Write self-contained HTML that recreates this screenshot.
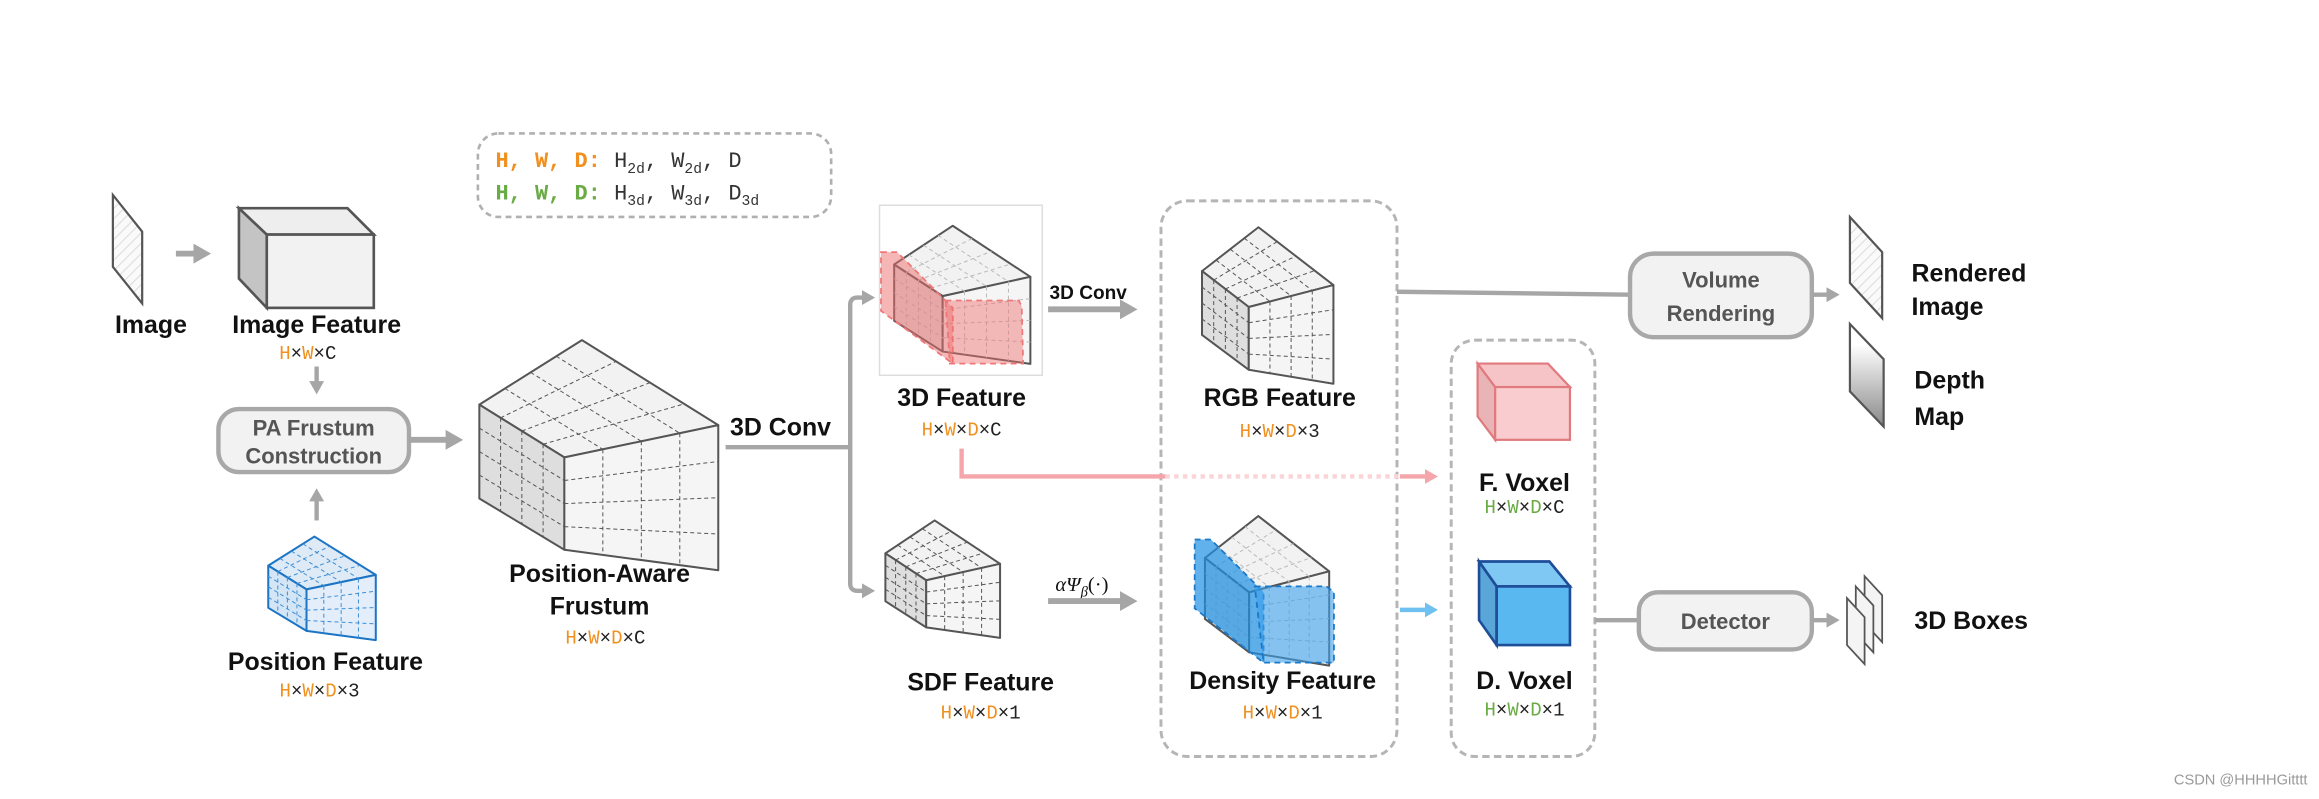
<!DOCTYPE html>
<html><head><meta charset="utf-8"><style>
html,body{margin:0;padding:0;background:#fff;}
svg{display:block;}
.lb{font-family:"Liberation Sans",sans-serif;font-weight:bold;font-size:17px;fill:#111;}
.dm{font-family:"Liberation Mono",monospace;font-size:13px;fill:#222;}
.o{fill:#f0901e;}
.g{fill:#6aab45;}
.bx{font-family:"Liberation Sans",sans-serif;font-weight:bold;font-size:15px;fill:#555;}
.fr polygon{stroke-width:2;stroke-linejoin:round;vector-effect:non-scaling-stroke;}
.fr path{stroke-width:1;stroke-dasharray:4 3;fill:none;vector-effect:non-scaling-stroke;}
.gy polygon{stroke:#555;} .gy .t{fill:#f2f2f2;} .gy .l{fill:#dedede;} .gy .f{fill:#f5f5f5;} .gy path{stroke:#555;}
.lt polygon{stroke:#555;} .lt .t{fill:#f2f2f2;} .lt .l{fill:#e0e0e0;} .lt .f{fill:#f5f5f5;} .lt path{stroke:#bbb;}
.bl polygon{stroke:#1b74c4;} .bl .t{fill:#deebf7;} .bl .l{fill:#d4e5f6;} .bl .f{fill:#e3eefa;} .bl path{stroke:#3d8fd6;}
</style></head><body>
<svg width="2319" height="799" viewBox="0 0 1582 545" preserveAspectRatio="none" xmlns="http://www.w3.org/2000/svg">
<defs>
<pattern id="hatch" width="5" height="5" patternUnits="userSpaceOnUse" patternTransform="rotate(45)">
<rect width="5" height="5" fill="#fafafa"/><line x1="0" y1="0" x2="0" y2="5" stroke="#ddd" stroke-width="1.5"/></pattern>
<linearGradient id="dg" x1="0" y1="0" x2="0" y2="1"><stop offset="0.2" stop-color="#fff"/><stop offset="1" stop-color="#888"/></linearGradient>
<marker id="ah" markerWidth="4" markerHeight="4" refX="2" refY="2" orient="auto" markerUnits="strokeWidth"><path d="M0,0.3 L3,2 L0,3.7z" fill="#a6a6a6"/></marker>
<marker id="ap" markerWidth="4" markerHeight="4" refX="2" refY="2" orient="auto" markerUnits="strokeWidth"><path d="M0,0.3 L3,2 L0,3.7z" fill="#f4a6aa"/></marker>
<marker id="ab" markerWidth="4" markerHeight="4" refX="2" refY="2" orient="auto" markerUnits="strokeWidth"><path d="M0,0.3 L3,2 L0,3.7z" fill="#6ec1f0"/></marker>
</defs>

<!-- legend -->
<rect x="326" y="91" width="241" height="57" rx="14" fill="#fff" stroke="#b0b0b0" stroke-width="1.8" stroke-dasharray="4 3"/>
<text x="338" y="114" font-family="Liberation Mono,monospace" font-size="15" fill="#333"><tspan class="o" font-weight="bold">H, W, D:</tspan> H<tspan font-size="10" dy="4">2d</tspan><tspan dy="-4">, W</tspan><tspan font-size="10" dy="4">2d</tspan><tspan dy="-4">, D</tspan></text>
<text x="338" y="136" font-family="Liberation Mono,monospace" font-size="15" fill="#333"><tspan class="g" font-weight="bold">H, W, D:</tspan> H<tspan font-size="10" dy="4">3d</tspan><tspan dy="-4">, W</tspan><tspan font-size="10" dy="4">3d</tspan><tspan dy="-4">, D</tspan><tspan font-size="10" dy="4">3d</tspan></text>

<!-- image -->
<polygon points="77,133 97,158 97,207 77,182" fill="url(#hatch)" stroke="#555" stroke-width="1.5"/>
<text class="lb" x="103" y="227" text-anchor="middle">Image</text>
<line x1="120" y1="173" x2="140" y2="173" stroke="#a6a6a6" stroke-width="4" marker-end="url(#ah)"/>

<!-- image feature cube -->
<polygon points="163,142 182,160 182,210 163,190" fill="#c4c4c4" stroke="#555" stroke-width="1.8"/>
<polygon points="163,142 237,142 255,160 182,160" fill="#eee" stroke="#555" stroke-width="1.8"/>
<rect x="182" y="160" width="73" height="50" fill="#f2f2f2" stroke="#555" stroke-width="1.8"/>
<text class="lb" x="216" y="227" text-anchor="middle">Image Feature</text>
<text class="dm" x="210" y="245" text-anchor="middle"><tspan class="o">H</tspan>×<tspan class="o">W</tspan>×C</text>
<line x1="216" y1="250" x2="216" y2="266" stroke="#a6a6a6" stroke-width="3" marker-end="url(#ah)"/>

<!-- PA box -->
<rect x="149" y="279" width="130" height="43" rx="14" fill="#f2f2f2" stroke="#a8a8a8" stroke-width="3"/>
<text class="bx" x="214" y="297" text-anchor="middle" font-size="14">PA Frustum</text>
<text class="bx" x="214" y="316" text-anchor="middle" font-size="14">Construction</text>
<line x1="216" y1="355" x2="216" y2="336" stroke="#a6a6a6" stroke-width="3" marker-end="url(#ah)"/>
<line x1="279" y1="300" x2="312" y2="300" stroke="#a6a6a6" stroke-width="4" marker-end="url(#ah)"/>

<!-- position feature -->
<g class="fr bl" transform="translate(183,366) scale(0.45,0.45)">
<polygon class="t" points="0,44 70,0 163,58 58,80"/><polygon class="l" points="0,44 58,80 58,143 0,108"/><polygon class="f" points="58,80 163,58 163,157 58,143"/>
<path d="M14.5,53L93.25,14.5M29,62L116.5,29M43.5,71L139.75,43.5M17.5,33L84.25,74.5M35,22L110.5,69M52.5,11L136.75,63.5M14.5,53L14.5,116.75M29,62L29,125.5M43.5,71L43.5,134.25M0,60L58,95.75M0,76L58,111.5M0,92L58,127.25M84.25,74.5L84.25,146.5M110.5,69L110.5,150M136.75,63.5L136.75,153.5M58,95.75L163,82.75M58,111.5L163,107.5M58,127.25L163,132.25"/></g>
<text class="lb" x="222" y="457" text-anchor="middle">Position Feature</text>
<text class="dm" x="218" y="475" text-anchor="middle"><tspan class="o">H</tspan>×<tspan class="o">W</tspan>×<tspan class="o">D</tspan>×3</text>

<!-- position-aware frustum -->
<g class="fr gy" transform="translate(327,232)">
<polygon class="t" points="0,44 70,0 163,58 58,80"/><polygon class="l" points="0,44 58,80 58,143 0,108"/><polygon class="f" points="58,80 163,58 163,157 58,143"/>
<path d="M14.5,53L93.25,14.5M29,62L116.5,29M43.5,71L139.75,43.5M17.5,33L84.25,74.5M35,22L110.5,69M52.5,11L136.75,63.5M14.5,53L14.5,116.75M29,62L29,125.5M43.5,71L43.5,134.25M0,60L58,95.75M0,76L58,111.5M0,92L58,127.25M84.25,74.5L84.25,146.5M110.5,69L110.5,150M136.75,63.5L136.75,153.5M58,95.75L163,82.75M58,111.5L163,107.5M58,127.25L163,132.25"/></g>
<text class="lb" x="409" y="397" text-anchor="middle">Position-Aware</text>
<text class="lb" x="409" y="419" text-anchor="middle">Frustum</text>
<text class="dm" x="413" y="439" text-anchor="middle"><tspan class="o">H</tspan>×<tspan class="o">W</tspan>×<tspan class="o">D</tspan>×C</text>

<!-- 3D conv branch -->
<text class="lb" x="498" y="297">3D Conv</text>
<path d="M495,305 L580,305 M580,208 Q580,203 585,203 L593,203 M580,208 L580,398 Q580,403 585,403 L593,403" stroke="#a6a6a6" stroke-width="3" fill="none"/>
<line x1="590" y1="203" x2="594" y2="203" stroke="#a6a6a6" stroke-width="3" marker-end="url(#ah)"/>
<line x1="590" y1="403" x2="594" y2="403" stroke="#a6a6a6" stroke-width="3" marker-end="url(#ah)"/>

<!-- 3D feature -->
<rect x="600" y="140" width="111" height="116" fill="#fff" stroke="#ddd" stroke-width="1"/>
<g class="fr lt" transform="translate(610,154) scale(0.57,0.6)">
<polygon class="t" points="0,44 70,0 163,58 58,80"/><polygon class="l" points="0,44 58,80 58,143 0,108"/><polygon class="f" points="58,80 163,58 163,157 58,143"/>
<path d="M14.5,53L93.25,14.5M29,62L116.5,29M43.5,71L139.75,43.5M17.5,33L84.25,74.5M35,22L110.5,69M52.5,11L136.75,63.5M14.5,53L14.5,116.75M29,62L29,125.5M43.5,71L43.5,134.25M0,60L58,95.75M0,76L58,111.5M0,92L58,127.25M84.25,74.5L84.25,146.5M110.5,69L110.5,150M136.75,63.5L136.75,153.5M58,95.75L163,82.75M58,111.5L163,107.5M58,127.25L163,132.25"/></g>
<polygon points="601,172 612,172 650,210 650,248 601,212" fill="rgba(240,110,110,0.5)" stroke="#e77" stroke-width="1.2" stroke-dasharray="4 3"/>
<polygon points="645,205 695,205 697,209 698,248 648,248" fill="rgba(240,110,110,0.45)" stroke="#e77" stroke-width="1.2" stroke-dasharray="4 3"/>
<text class="lb" x="656" y="277" text-anchor="middle">3D Feature</text>
<text class="dm" x="656" y="297" text-anchor="middle"><tspan class="o">H</tspan>×<tspan class="o">W</tspan>×<tspan class="o">D</tspan>×C</text>
<text x="716" y="204" font-family="Liberation Sans,sans-serif" font-weight="bold" font-size="13" fill="#111">3D Conv</text>
<line x1="715" y1="211" x2="772" y2="211" stroke="#a6a6a6" stroke-width="4" marker-end="url(#ah)"/>

<!-- dashed box 1 -->
<rect x="792" y="137" width="161" height="379" rx="18" fill="none" stroke="#b5b5b5" stroke-width="2" stroke-dasharray="5 3"/>
<g class="fr gy" transform="translate(820,155) scale(0.55,0.68)">
<polygon class="t" points="0,44 70,0 163,58 58,80"/><polygon class="l" points="0,44 58,80 58,143 0,108"/><polygon class="f" points="58,80 163,58 163,157 58,143"/>
<path d="M14.5,53L93.25,14.5M29,62L116.5,29M43.5,71L139.75,43.5M17.5,33L84.25,74.5M35,22L110.5,69M52.5,11L136.75,63.5M14.5,53L14.5,116.75M29,62L29,125.5M43.5,71L43.5,134.25M0,60L58,95.75M0,76L58,111.5M0,92L58,127.25M84.25,74.5L84.25,146.5M110.5,69L110.5,150M136.75,63.5L136.75,153.5M58,95.75L163,82.75M58,111.5L163,107.5M58,127.25L163,132.25"/></g>
<text class="lb" x="873" y="277" text-anchor="middle">RGB Feature</text>
<text class="dm" x="873" y="298" text-anchor="middle"><tspan class="o">H</tspan>×<tspan class="o">W</tspan>×<tspan class="o">D</tspan>×3</text>

<!-- pink connector -->
<path d="M656,306 L656,325 L795,325" stroke="#f4a6aa" stroke-width="3" fill="none"/>
<line x1="795" y1="325" x2="955" y2="325" stroke="#fad4d6" stroke-width="3" stroke-dasharray="3 3"/>
<line x1="955" y1="325" x2="978" y2="325" stroke="#f4a6aa" stroke-width="3" marker-end="url(#ap)"/>

<!-- SDF -->
<g class="fr gy" transform="translate(604,355) scale(0.48,0.51)">
<polygon class="t" points="0,44 70,0 163,58 58,80"/><polygon class="l" points="0,44 58,80 58,143 0,108"/><polygon class="f" points="58,80 163,58 163,157 58,143"/>
<path d="M14.5,53L93.25,14.5M29,62L116.5,29M43.5,71L139.75,43.5M17.5,33L84.25,74.5M35,22L110.5,69M52.5,11L136.75,63.5M14.5,53L14.5,116.75M29,62L29,125.5M43.5,71L43.5,134.25M0,60L58,95.75M0,76L58,111.5M0,92L58,127.25M84.25,74.5L84.25,146.5M110.5,69L110.5,150M136.75,63.5L136.75,153.5M58,95.75L163,82.75M58,111.5L163,107.5M58,127.25L163,132.25"/></g>
<text class="lb" x="669" y="471" text-anchor="middle">SDF Feature</text>
<text class="dm" x="669" y="490" text-anchor="middle"><tspan class="o">H</tspan>×<tspan class="o">W</tspan>×<tspan class="o">D</tspan>×1</text>
<text x="720" y="403" font-family="Liberation Serif,serif" font-style="italic" font-size="14" fill="#111">αΨ<tspan font-size="10" dy="4">β</tspan><tspan dy="-4" font-style="normal">(·)</tspan></text>
<line x1="715" y1="410" x2="772" y2="410" stroke="#a6a6a6" stroke-width="4" marker-end="url(#ah)"/>

<!-- Density -->
<g class="fr lt" transform="translate(822,352) scale(0.52,0.65)">
<polygon class="t" points="0,44 70,0 163,58 58,80"/><polygon class="l" points="0,44 58,80 58,143 0,108"/><polygon class="f" points="58,80 163,58 163,157 58,143"/>
<path d="M14.5,53L93.25,14.5M29,62L116.5,29M43.5,71L139.75,43.5M17.5,33L84.25,74.5M35,22L110.5,69M52.5,11L136.75,63.5M14.5,53L14.5,116.75M29,62L29,125.5M43.5,71L43.5,134.25M0,60L58,95.75M0,76L58,111.5M0,92L58,127.25M84.25,74.5L84.25,146.5M110.5,69L110.5,150M136.75,63.5L136.75,153.5M58,95.75L163,82.75M58,111.5L163,107.5M58,127.25L163,132.25"/></g>
<polygon points="815,368 826,368 862,404 862,452 815,415" fill="rgba(30,144,230,0.7)" stroke="#1a78c8" stroke-width="1.2" stroke-dasharray="4 3"/>
<polygon points="856,400 905,400 910,404 910,452 862,452" fill="rgba(60,160,235,0.6)" stroke="#1a78c8" stroke-width="1.2" stroke-dasharray="4 3"/>
<text class="lb" x="875" y="470" text-anchor="middle">Density Feature</text>
<text class="dm" x="875" y="490" text-anchor="middle"><tspan class="o">H</tspan>×<tspan class="o">W</tspan>×<tspan class="o">D</tspan>×1</text>
<line x1="955" y1="416" x2="978" y2="416" stroke="#6ec1f0" stroke-width="3" marker-end="url(#ab)"/>

<!-- dashed box 2 -->
<rect x="990" y="232" width="98" height="284" rx="16" fill="none" stroke="#b5b5b5" stroke-width="2" stroke-dasharray="5 3"/>
<polygon points="1008,248 1020,264 1020,300 1008,284" fill="#e8b4b6" stroke="#e07a7e" stroke-width="1.5"/>
<polygon points="1008,248 1056,248 1071,264 1020,264" fill="#f6c4c6" stroke="#e07a7e" stroke-width="1.5"/>
<rect x="1020" y="264" width="51" height="36" fill="#f9cdd0" stroke="#e07a7e" stroke-width="1.5"/>
<text class="lb" x="1040" y="335" text-anchor="middle">F. Voxel</text>
<text class="dm" x="1040" y="350" text-anchor="middle"><tspan class="g">H</tspan>×<tspan class="g">W</tspan>×<tspan class="g">D</tspan>×C</text>
<polygon points="1009,383 1021,400 1021,440 1009,423" fill="#5aa6d8" stroke="#1f4e99" stroke-width="1.8"/>
<polygon points="1009,383 1057,383 1071,400 1021,400" fill="#80c8f4" stroke="#1f4e99" stroke-width="1.8"/>
<rect x="1021" y="400" width="50" height="40" fill="#5ab8f0" stroke="#1f4e99" stroke-width="1.8"/>
<text class="lb" x="1040" y="470" text-anchor="middle">D. Voxel</text>
<text class="dm" x="1040" y="488" text-anchor="middle"><tspan class="g">H</tspan>×<tspan class="g">W</tspan>×<tspan class="g">D</tspan>×1</text>

<!-- volume rendering -->
<path d="M953,199 L1112,201" stroke="#a6a6a6" stroke-width="3" fill="none"/>
<rect x="1112" y="173" width="124" height="57" rx="16" fill="#f2f2f2" stroke="#a8a8a8" stroke-width="3"/>
<text class="bx" x="1174" y="196" text-anchor="middle" font-size="16">Volume</text>
<text class="bx" x="1174" y="219" text-anchor="middle" font-size="16">Rendering</text>
<line x1="1236" y1="201" x2="1252" y2="201" stroke="#a6a6a6" stroke-width="3" marker-end="url(#ah)"/>
<polygon points="1262,148 1284,172 1284,217 1262,193" fill="url(#hatch)" stroke="#555" stroke-width="1.5"/>
<text class="lb" x="1304" y="192">Rendered</text>
<text class="lb" x="1304" y="215">Image</text>
<polygon points="1262,221 1285,245 1285,291 1262,267" fill="url(#dg)" stroke="#555" stroke-width="1.5"/>
<text class="lb" x="1306" y="265">Depth</text>
<text class="lb" x="1306" y="290">Map</text>

<!-- detector -->
<line x1="1088" y1="423" x2="1118" y2="423" stroke="#a6a6a6" stroke-width="3"/>
<rect x="1118" y="404" width="118" height="39" rx="13" fill="#f2f2f2" stroke="#a8a8a8" stroke-width="3"/>
<text class="bx" x="1177" y="429" text-anchor="middle" font-size="16">Detector</text>
<line x1="1236" y1="423" x2="1252" y2="423" stroke="#a6a6a6" stroke-width="3" marker-end="url(#ah)"/>
<polygon points="1272,393 1284,406 1284,438 1272,425" fill="#f4f4f4" stroke="#555" stroke-width="1.2"/>
<polygon points="1266,400 1278,413 1278,445 1266,432" fill="#f4f4f4" stroke="#555" stroke-width="1.2"/>
<polygon points="1260,408 1272,421 1272,453 1260,440" fill="#f4f4f4" stroke="#555" stroke-width="1.2"/>
<text class="lb" x="1306" y="429">3D Boxes</text>

<text x="1483" y="535" font-family="Liberation Sans,sans-serif" font-size="10" fill="#999">CSDN @HHHHGitttt</text>
</svg>
</body></html>
